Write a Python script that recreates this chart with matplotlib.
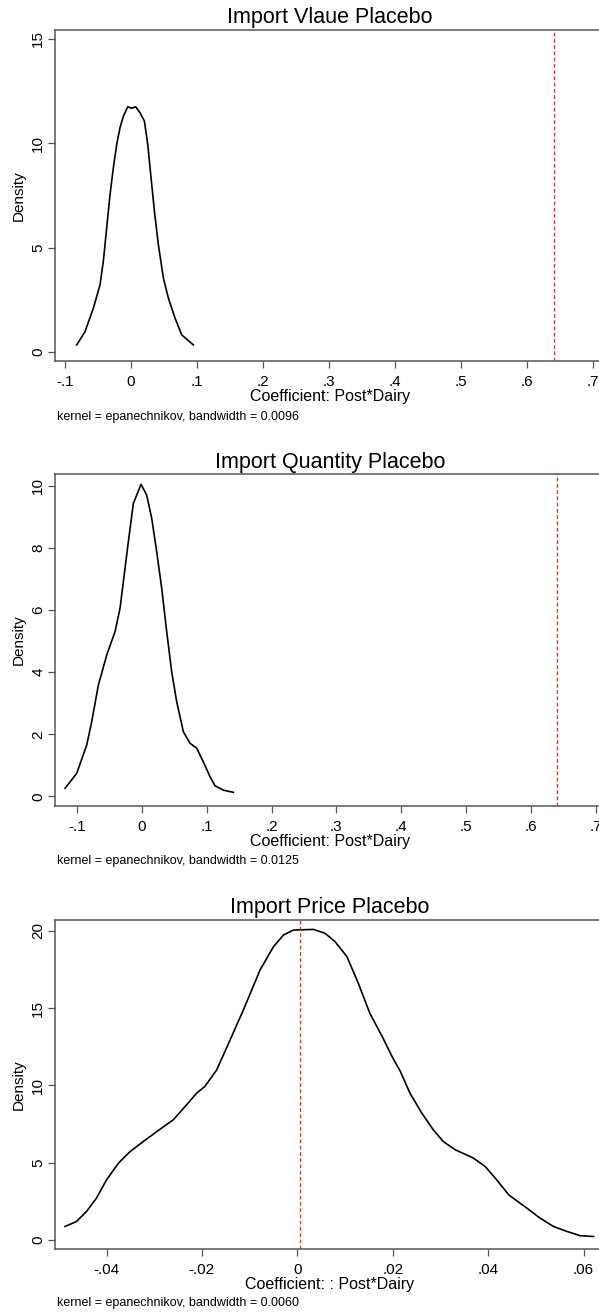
import numpy as np
import matplotlib
matplotlib.use("Agg")
import matplotlib.pyplot as plt

plt.rcParams['font.family'] = ['Liberation Sans', 'DejaVu Sans']

# --- data ---
# panel 1: import value placebo
val_x = [-0.0823, -0.0697, -0.0571, -0.047, -0.042, -0.0369, -0.0318, -0.0268,
         -0.0217, -0.0167, -0.0116, -0.005, 0.001, 0.007, 0.0136, 0.0202,
         0.0253, 0.0303, 0.0354, 0.0414, 0.049, 0.0566, 0.0667, 0.0768, 0.0944]
val_y = [0.34, 0.98, 2.1, 3.22, 4.34, 5.95, 7.55, 8.83,
         9.95, 10.75, 11.3, 11.75, 11.68, 11.75, 11.47, 11.07,
         9.95, 8.35, 6.75, 5.14, 3.54, 2.58, 1.62, 0.82, 0.34]

# panel 2: import quantity placebo
qty_x = [-0.1188, -0.1008, -0.0854, -0.0777, -0.0674, -0.0545, -0.0417, -0.034,
         -0.0288, -0.0211, -0.0134, -0.0015, 0.0072, 0.015, 0.0227, 0.0304,
         0.0381, 0.0458, 0.0535, 0.0638, 0.0741, 0.0844, 0.0946, 0.105,
         0.1127, 0.1255, 0.141]
qty_y = [0.26, 0.74, 1.65, 2.4, 3.58, 4.55, 5.3, 6.05,
         6.91, 8.2, 9.43, 10.05, 9.7, 8.95, 7.87, 6.7,
         5.3, 4.01, 3.05, 2.08, 1.71, 1.55, 1.11, 0.63,
         0.34, 0.2, 0.13]

# panel 3: import price placebo
prc_x = [-0.0487, -0.0463, -0.0442, -0.0421, -0.040, -0.0375, -0.0351, -0.0323,
         -0.0295, -0.026, -0.0232, -0.0211, -0.0194, -0.0169, -0.0141, -0.0113,
         -0.0078, -0.005, -0.0029, -0.0008, 0.0034, 0.0058, 0.0079, 0.0104,
         0.0128, 0.0152, 0.0178, 0.0198, 0.0216, 0.0236, 0.0261, 0.0285,
         0.0306, 0.0331, 0.0369, 0.0394, 0.0418, 0.0443, 0.0481, 0.0509, 0.0537,
         0.0565, 0.0593, 0.0621]
prc_y = [0.86, 1.18, 1.83, 2.7, 3.88, 4.96, 5.7, 6.36,
         7.0, 7.77, 8.74, 9.5, 9.92, 11.0, 12.94, 14.89,
         17.48, 18.98, 19.74, 20.06, 20.1, 19.85, 19.31, 18.34,
         16.6, 14.67, 13.16, 11.9, 10.9, 9.5, 8.2, 7.12,
         6.36, 5.83, 5.29, 4.74, 3.88, 2.91, 2.05, 1.4, 0.86,
         0.54, 0.26, 0.21]

titles = ["Import Vlaue Placebo", "Import Quantity Placebo", "Import Price Placebo"]
xlabels = ["Coefficient: Post*Dairy", "Coefficient: Post*Dairy", "Coefficient: : Post*Dairy"]
notes = ["kernel = epanechnikov, bandwidth = 0.0096",
         "kernel = epanechnikov, bandwidth = 0.0125",
         "kernel = epanechnikov, bandwidth = 0.0060"]
ref_lines = [0.64, 0.64, 0.0006]

xticks = [[-0.1, 0, 0.1, 0.2, 0.3, 0.4, 0.5, 0.6, 0.7],
          [-0.1, 0, 0.1, 0.2, 0.3, 0.4, 0.5, 0.6, 0.7],
          [-0.04, -0.02, 0, 0.02, 0.04, 0.06]]
xticklabels = [["-.1", "0", ".1", ".2", ".3", ".4", ".5", ".6", ".7"],
               ["-.1", "0", ".1", ".2", ".3", ".4", ".5", ".6", ".7"],
               ["-.04", "-.02", "0", ".02", ".04", ".06"]]
yticks = [[0, 5, 10, 15], [0, 2, 4, 6, 8, 10], [0, 5, 10, 15, 20]]

xlims = [(-0.1152, 0.718), (-0.1343, 0.7145), (-0.0508, 0.0645)]
ylims = [(-0.43, 15.43), (-0.31, 10.38), (-0.6, 20.71)]

curves = [(val_x, val_y), (qty_x, qty_y), (prc_x, prc_y)]

# layout in pixels (top, bottom of plot region)
W, H = 599, 1316
regions = [(30, 361), (474, 806), (920, 1249)]
title_base = [23, 468, 913]
xlab_y = [397, 841.5, 1284]
note_y = [417, 861, 1303]

fig = plt.figure(figsize=(W / 100, H / 100), dpi=100)
spine_col = "#555555"

for i in range(3):
    top, bot = regions[i]
    ax = fig.add_axes([55 / W, 1 - bot / H, 550 / W, (bot - top) / H])
    x, y = curves[i]
    ax.plot(x, y, color="black", lw=1.2, solid_joinstyle="round")
    ax.axvline(ref_lines[i], color="#ff2020", lw=0.9, ls=(0, (3, 2)))
    ax.set_xlim(*xlims[i])
    ax.set_ylim(*ylims[i])
    ax.set_xticks(xticks[i])
    ax.set_xticklabels(xticklabels[i])
    ax.set_yticks(yticks[i])
    ax.set_yticklabels([str(v) for v in yticks[i]], rotation=90, va="center")
    for s in ["left", "bottom", "top", "right"]:
        ax.spines[s].set_color(spine_col)
        ax.spines[s].set_linewidth(1.1)
    ax.tick_params(axis="both", direction="out", length=5, width=0.9,
                   color=spine_col, labelsize=11)
    ax.tick_params(axis="x", pad=5)
    ax.tick_params(axis="y", pad=2)

    fig.text(330 / W, 1 - title_base[i] / H, titles[i], ha="center",
             va="baseline", fontsize=15.5)
    fig.text(330 / W, 1 - xlab_y[i] / H, xlabels[i], ha="center",
             va="center", fontsize=11.5)
    fig.text(19 / W, 1 - (top + bot) / 2 / H, "Density", rotation=90,
             ha="center", va="center", fontsize=11)
    fig.text(57 / W, 1 - note_y[i] / H, notes[i], ha="left", va="center",
             fontsize=9)

fig.savefig("out.png", dpi=100)
